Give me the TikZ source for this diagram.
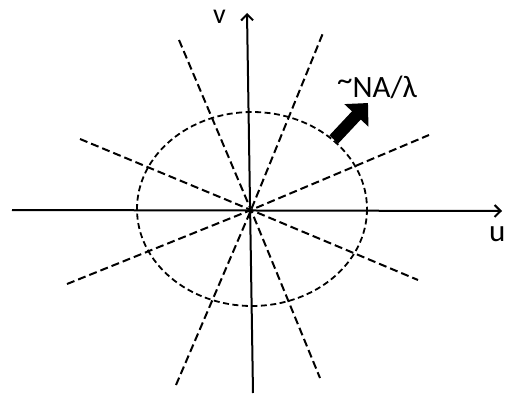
\documentclass[tikz,border=0pt]{standalone}
\usepackage{fontspec}
\setmainfont{Carlito}
\usetikzlibrary{arrows.meta}
\begin{document}
\begin{tikzpicture}[x=1pt,y=-1pt]
		\useasboundingbox (0,0) rectangle (509,396);
		% centre of the (u,v) plane
		\coordinate (O) at (251,210);
		% axes
		\coordinate (uL) at (12,210);
		\coordinate (uR) at (502,211);
		\coordinate (vB) at (253,393);
		\coordinate (vT) at (247,13);
		\draw[line width=2pt,-{Straight Barb[length=6pt,width=12pt,line width=2pt]}] (uL) -- (uR);
		\draw[line width=2pt,-{Straight Barb[length=6pt,width=12pt,line width=2pt]}] (vB) -- (vT);
		% dashed lines through the centre
		\draw[line width=2pt,dash pattern=on 8pt off 4pt] (80,139) -- (O) -- (418,280);
		\draw[line width=2pt,dash pattern=on 8pt off 4pt] (67,284) -- (O) -- (429,135);
		\draw[line width=2pt,dash pattern=on 8pt off 4pt] (179,40) -- (O) -- (320,378);
		\draw[line width=2pt,dash pattern=on 8pt off 4pt] (176,385) -- (O) -- (323,33);
		% NA circle
		\draw[line width=1.8pt,dash pattern=on 6pt off 3.5pt] (252,209) ellipse (115 and 97);
		% block arrow
		\coordinate (aT) at (333.8,139.5);
		\coordinate (aH) at (368,103);
		\draw[line width=12pt,-{Triangle[length=17pt,width=32pt]}] (aT) -- (aH);
			\node[anchor=base west,inner sep=0pt,font=\fontsize{31}{34}\selectfont] (na) at (337,97) {\raisebox{6pt}{\char"007E}NA/λ};
			\node[anchor=base west,inner sep=0pt,font=\fontsize{31}{34}\selectfont] (ul) at (489,241) {u};
			\node[anchor=base west,inner sep=0pt,font=\fontsize{28}{30}\selectfont] (vl) at (213,24) {v};
	\end{tikzpicture}
\end{document}
